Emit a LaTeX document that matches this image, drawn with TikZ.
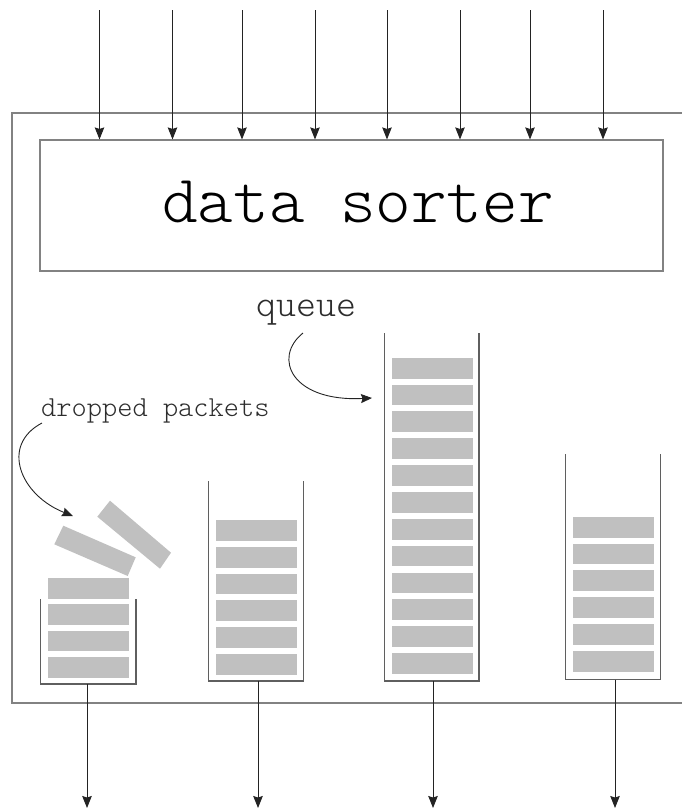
\documentclass[tikz,border=0pt]{standalone}
\usepackage{fontspec}
\usetikzlibrary{arrows.meta}
\newfontfamily\thinmono{Latin Modern Mono Light}
\definecolor{frame}{RGB}{130,130,130}
\definecolor{binline}{RGB}{95,95,95}
\definecolor{packetfill}{RGB}{192,192,192}
\definecolor{wire}{RGB}{35,35,35}
\definecolor{labelink}{RGB}{45,45,45}

% one queue: walls and stacked packets
% #1 name, #2 left, #3 right, #4 top, #5 bottom, #6 outlet x,
% #7 first packet top, #8 packet pitch, #9 last packet index
\newcommand{\drawbin}[9]{%
  \draw[binwall] (#2,#4) -- (#2,#5) -- (#3,#5) -- (#3,#4);
  \coordinate (#1) at (#6,#5);
  \foreach \k in {0,...,#9} {
    \fill[packet] ({#2+7.5},{#7+\k*#8}) rectangle ++(80.8,20.8);
  }%
}

\begin{document}
\begin{tikzpicture}[x=1pt,y=-1pt,
  frameline/.style={draw=frame, line width=1.1pt},
  binwall/.style={draw=binline, line width=1.4pt},
  packet/.style={fill=packetfill, draw=none},
  wirearrow/.style={draw=wire, line width=0.9pt,
    -{Stealth[length=12pt,width=9.5pt,inset=1.5pt]}},
  curvearrow/.style={draw=wire, line width=0.9pt,
    -{Stealth[length=11pt,width=9pt,inset=1.5pt]}},
  labeltext/.style={inner sep=0pt, anchor=base west, text=labelink}
]
\useasboundingbox (0,0) rectangle (681,809);

% enclosing system frame (open to the right)
\draw[frameline] (690,113) -- (12,113) -- (12,703) -- (690,703);

% sorter block
\node[frameline, minimum width=623pt, minimum height=131pt, inner sep=0pt]
  (sorter) at (351.5,205.5) {};
\node[inner sep=0pt, anchor=base, font=\thinmono\fontsize{67.8}{70}\selectfont]
  (sortertext) at (358,222) {data sorter};

% incoming streams
\foreach \x [count=\i] in {99.5,172.5,242,315,387,460,530,603} {
  \coordinate (in\i) at (\x,10);
  \draw[wirearrow] (in\i) -- (in\i |- sorter.north);
}

% queues
\drawbin{bin1}{40.5}{136}{599}{684}{87}{578}{26.3}{3}
\drawbin{bin2}{208.5}{303.5}{481}{681}{258}{520}{26.8}{5}
\drawbin{bin3}{384.5}{479}{333}{681}{433}{357.7}{26.85}{11}
\drawbin{bin4}{565.5}{660.5}{454}{679.5}{615}{516.7}{26.8}{5}

% packets falling off the full queue
\fill[packet] (63.3,525.7) -- (135.7,557.3) -- (127.7,576) -- (54.3,544.3) -- cycle;
\fill[packet] (110,500.7) -- (171,552.7) -- (160,568.7) -- (97.3,516.7) -- cycle;

% outgoing streams
\foreach \x [count=\i] in {87,258,433,615} {
  \coordinate (out\i) at (\x,808);
  \draw[wirearrow] (bin\i) -- (out\i);
}

% annotations
\node[labeltext, font=\thinmono\fontsize{29}{30}\selectfont]
  (droplabel) at (41,416.5) {dropped packets};
\coordinate (dropstart) at (42,423);
\coordinate (droptip) at (73,516);
\draw[curvearrow] (dropstart) .. controls (0,445) and (20,495) .. (droptip);

\node[labeltext, font=\thinmono\fontsize{38}{40}\selectfont]
  (queuelabel) at (256,316) {queue};
\coordinate (queuestart) at (303,333);
\coordinate (queuetip) at (372,398);
\draw[curvearrow] (queuestart) .. controls (272,358) and (292,402) .. (queuetip);

\end{tikzpicture}
\end{document}
